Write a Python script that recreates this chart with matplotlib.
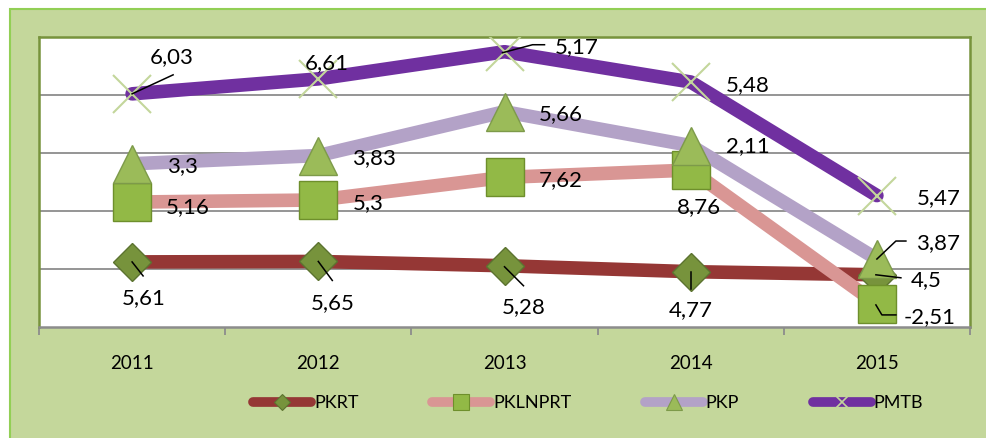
import matplotlib.pyplot as plt
import matplotlib.transforms as mtransforms
from matplotlib.lines import Line2D
from matplotlib.patches import Rectangle
import numpy as np

plt.rcParams['font.family'] = ['Lato', 'DejaVu Sans']

# données
annees = ["2011", "2012", "2013", "2014", "2015"]
series = ["PKRT", "PKLNPRT", "PKP", "PMTB"]
pkrt = [5.61, 5.65, 5.28, 4.77, 4.5]
pklnprt = [5.16, 5.3, 7.62, 8.76, -2.51]
pkp = [3.3, 3.83, 5.66, 2.11, 3.87]
pmtb = [6.03, 6.61, 5.17, 5.48, 5.47]

valeurs = [pkrt, pklnprt, pkp, pmtb]
couleurs = ["#953735", "#d99694", "#b3a2c7", "#7030a0"]
marqueurs = ["D", "s", "^", "x"]
tailles = [19.5, 27, 27.5, 27]
remplis = ["#77933c", "#92b946", "#9bbb59", "#c3d69b"]
bords = ["#5c7330", "#6e8f2c", "#7d9a4a", "#c3d69b"]

# position des étiquettes (décalage en pixels depuis le point, y vers le bas)
decal = [
    [(12, 36), (14, 42), (19, 41), (0, 38), (49, 5)],
    [(56, 5), (50, 3), (56, 3), (8, 37), (53, 13)],
    [(50, 2), (56, 3), (56, 2), (57, 1), (61, -16)],
    [(40, -37), (8, -16), (72, -5), (57, 3), (62, 3)],
]
# traits de rappel : (série, année, liste de points décalés)
rappels = [
    (3, 0, [(0, 0), (41, -19)]),
    (3, 2, [(-2, 1), (28, -7), (40, -7)]),
    (0, 0, [(0, 0), (11, 14)]),
    (0, 1, [(0, 0), (14, 19)]),
    (0, 2, [(0, 1), (19, 20)]),
    (0, 3, [(0, 0), (0, 17)]),
    (0, 4, [(-1, 0), (24, 3)]),
    (1, 4, [(-1, 1), (5, 11), (19, 11)]),
    (2, 4, [(0, 0), (19, -18), (29, -18)]),
]

cumul = np.cumsum(np.array(valeurs), axis=0)
x = np.arange(len(annees))

fig = plt.figure(figsize=(9.87, 4.38), dpi=100, facecolor="white")
fig.add_artist(Rectangle((10 / 987, -0.1), 1.1, 1.1 - 9 / 438 + 0.0, transform=fig.transFigure,
                         facecolor="#c4d79b", edgecolor="#92cf55", lw=1.5, zorder=0))
ax = fig.add_axes([39 / 987, 111 / 438, 931 / 987, 290 / 438])
ax.set_facecolor("white")

for i, nom in enumerate(series):
    ax.plot(x, cumul[i], color=couleurs[i], lw=9.8, solid_capstyle="round",
            solid_joinstyle="round", marker=marqueurs[i], ms=tailles[i],
            mfc=remplis[i], mec=bords[i], mew=1.5 if marqueurs[i] == "x" else 1.0,
            zorder=3 + i)

ax.set_xlim(-0.5, 4.5)
ax.set_ylim(0, 25)
ax.set_yticks([5, 10, 15, 20])
ax.set_yticklabels([])
ax.tick_params(axis="y", length=0)
ax.grid(axis="y", color="#8c8c8c", lw=1.3)
ax.set_axisbelow(True)
ax.set_xticks(x)
ax.set_xticklabels(annees, fontsize=13.5)
ax.tick_params(axis="x", length=0, pad=20)
ax.set_xticks(np.arange(-0.5, 5, 1), minor=True)
ax.tick_params(axis="x", which="minor", length=6, width=1.3, color="#8c8c8c", direction="out")
for cote in ["top", "left", "right"]:
    ax.spines[cote].set_color("#77933c")
    ax.spines[cote].set_linewidth(1.8)
ax.spines["bottom"].set_color("#8c8c8c")
ax.spines["bottom"].set_linewidth(1.8)

# étiquettes de données
H = 438
for i in range(len(series)):
    for j in range(len(annees)):
        dx, dy = decal[i][j]
        ax.annotate(f"{valeurs[i][j]:g}".replace(".", ","), (x[j], cumul[i][j]),
                    xytext=(dx, -dy), textcoords="offset pixels", ha="center", va="center",
                    fontsize=16, color="black", zorder=10)

for i, j, pts in rappels:
    bx, by = ax.transData.transform((x[j], cumul[i][j]))
    xs = [bx + p[0] for p in pts]
    ys = [by - p[1] for p in pts]
    fig.add_artist(Line2D(xs, ys, color="black", lw=1.1,
                          transform=mtransforms.IdentityTransform(), zorder=10))

# légende
poignees = [Line2D([], [], color=couleurs[i], lw=7, solid_capstyle="round",
                   marker=marqueurs[i], ms=[8, 11, 12, 9][i], mfc=remplis[i], mec=bords[i],
                   mew=1.2 if marqueurs[i] == "x" else 0.8) for i in range(len(series))]
fig.legend(poignees, series, loc="center", bbox_to_anchor=(0.596, 0.08), ncol=4,
           frameon=False, fontsize=13, handlelength=3.2, handletextpad=0.15,
           columnspacing=4.1, numpoints=1)

fig.savefig("out.png", dpi=100, facecolor=fig.get_facecolor())
